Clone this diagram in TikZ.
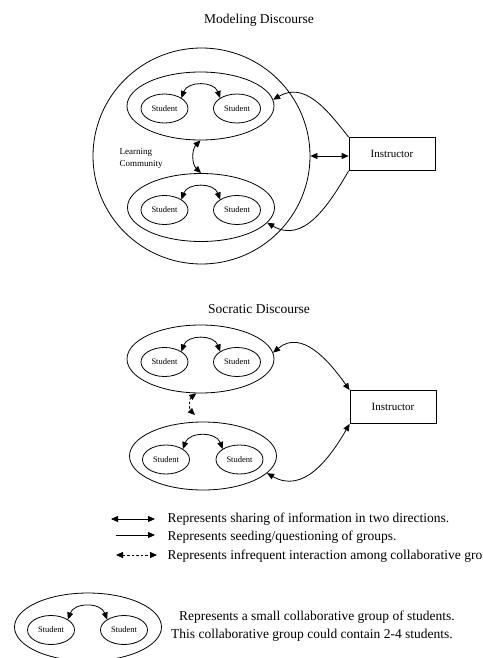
\documentclass[tikz,border=0pt]{standalone}
\usepackage{fontspec}
\setmainfont{Liberation Serif}
\usepackage{tikz}
\usetikzlibrary{arrows.meta,positioning,shapes.geometric}

\tikzset{
  student/.style={ellipse,draw,minimum width=47pt,minimum height=29pt,inner sep=0pt,font=\fontsize{8.5}{10}\selectfont},
  group/.style={ellipse,draw,minimum width=147pt,minimum height=68pt,inner sep=0pt},
  instbox/.style={rectangle,draw,minimum width=86pt,minimum height=33pt,font=\fontsize{11}{13}\selectfont},
  both/.style={{Triangle[length=7pt,width=6pt]}-{Triangle[length=7pt,width=6pt]}},
  seed/.style={-{Triangle[length=7pt,width=6pt]}},
  rare/.style={both,dash pattern=on 2.5pt off 2pt},
  big/.style={font=\fontsize{13.5}{16}\selectfont}
}

\begin{document}
\begin{tikzpicture}
[x=1pt,y=-1pt,line width=0.8pt];
\useasboundingbox (0,0) rectangle (482,658);

% modeling discourse
\node[big] (mtitle) at (259,20) {Modeling Discourse};
\node[ellipse,draw,minimum width=217pt,minimum height=216pt] (lc) at (201.5,156) {};
\node[group] (g1) at (200.5,106) {};
\node[student] (s1) at (164.5,108.5) {Student};
\node[student] (s2) at (237,108.5) {Student};
\node[group] (g2) at (201,207.5) {};
\node[student] (s3) at (164.5,210) {Student};
\node[student] (s4) at (237,210) {Student};
\node[anchor=west,align=left,font=\fontsize{9}{12}\selectfont] (lctext) at (116,158) {Learning\\Community};
\node[instbox] (ins) at (392,154) {Instructor};

\draw[both] (s1.north east) to[out=70,in=110,looseness=1.2] (s2.north west);
\draw[both] (s3.north east) to[out=70,in=110,looseness=1.2] (s4.north west);
\draw[both] (g1.south) to[bend right=45] (g2.north);
\draw[both] (lc.east) -- (lc.east -| ins.west);
\draw[seed] (ins.north west) to[out=128,in=30,looseness=1.1] (g1.5);
\draw[seed] (ins.south west) to[out=240,in=-30,looseness=1.1] (g2.347);

% socratic discourse
\node[big] (stitle) at (259,309) {Socratic Discourse};
\node[group] (g3) at (200.5,359) {};
\node[student] (s5) at (164.5,362) {Student};
\node[student] (s6) at (237,362) {Student};
\node[group] (g4) at (203,456) {};
\node[student] (s7) at (166,459.5) {Student};
\node[student] (s8) at (239.5,459.5) {Student};
\node[instbox] (ins2) at (393,407) {Instructor};
\coordinate (gap) at (195,415);

\draw[both] (s5.north east) to[out=70,in=110,looseness=1.2] (s6.north west);
\draw[both] (s7.north east) to[out=70,in=110,looseness=1.2] (s8.north west);
\draw[rare] (g3.263) to[bend right=50] (gap);
\draw[both] (g3.5) to[out=40,in=125,looseness=1.1] (ins2.north west);
\draw[both] (ins2.south west) to[out=240,in=-30,looseness=1.1] (g4.345);

% legend
\coordinate (k1a) at (111,519);
\coordinate (k1b) at (155,519);
\coordinate (k2a) at (116,535);
\coordinate (k2b) at (155,535);
\coordinate (k3a) at (116,555);
\coordinate (k3b) at (157,555);
\draw[both] (k1a) -- (k1b);
\draw[seed] (k2a) -- (k2b);
\draw[rare] (k3a) -- (k3b);
\node[big,anchor=west] (k1) at (164,519) {Represents sharing of information in two directions.};
\node[big,anchor=west] (k2) at (164,537) {Represents seeding/questioning of groups.};
\node[big,anchor=west] (k3) at (164,556) {Represents infrequent interaction among collaborative groups.};

\node[group] (g5) at (88,627) {};
\node[student] (s9) at (51,630) {Student};
\node[student] (s10) at (124,630) {Student};
\draw[both] (s9.north east) to[out=70,in=110,looseness=1.2] (s10.north west);
\node[big] (k4) at (317,617) {Represents a small collaborative group of students.};
\node[big] (k5) at (312,635) {This collaborative group could contain 2-4 students.};
\end{tikzpicture}
\end{document}
